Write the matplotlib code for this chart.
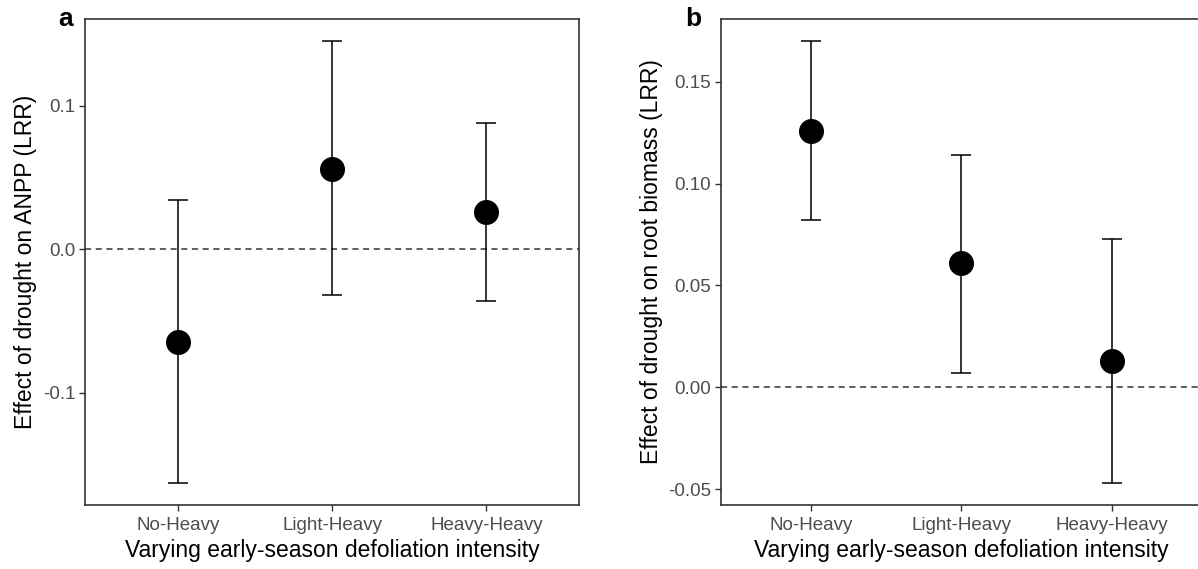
import matplotlib.pyplot as plt

plt.rcParams["font.family"] = ["Liberation Sans", "DejaVu Sans"]

CATEGORIES = ["No-Heavy", "Light-Heavy", "Heavy-Heavy"]

# panel a: ANPP
anpp_mean = [-0.065, 0.056, 0.026]
anpp_low = [-0.163, -0.032, -0.036]
anpp_high = [0.034, 0.145, 0.088]
anpp_ticks = [-0.1, 0.0, 0.1]
anpp_ticklabels = ["-0.1", "0.0", "0.1"]

# panel b: root biomass
root_mean = [0.126, 0.061, 0.013]
root_low = [0.082, 0.007, -0.047]
root_high = [0.170, 0.114, 0.073]
root_ticks = [-0.05, 0.0, 0.05, 0.10, 0.15]
root_ticklabels = ["-0.05", "0.00", "0.05", "0.10", "0.15"]

XLABEL = "Varying early-season defoliation intensity"

fig = plt.figure(figsize=(11.98, 5.69), dpi=100)
ax_a = fig.add_axes([0.071, 0.1125, 0.4124, 0.8541])
ax_b = fig.add_axes([0.6018, 0.1125, 0.4015, 0.8541])


def draw_panel(ax, mean, low, high, ticks, ticklabels, ylabel, letter, letter_x):
    x = list(range(1, len(CATEGORIES) + 1))
    yerr = [[m - l for m, l in zip(mean, low)], [h - m for m, h in zip(mean, high)]]
    ax.axhline(0, color="#333333", linestyle=(0, (4, 3)), linewidth=1.1, zorder=1)
    ax.errorbar(x, mean, yerr=yerr, fmt="o", color="black", markersize=17,
                ecolor="black", elinewidth=1.1, capsize=7, capthick=1.1, zorder=3)
    span = max(high) - min(low)
    ax.set_ylim(min(low) - 0.05 * span, max(high) + 0.05 * span)
    ax.set_xlim(0.4, len(CATEGORIES) + 0.6)
    ax.set_xticks(x)
    ax.set_xticklabels(CATEGORIES)
    ax.set_yticks(ticks)
    ax.set_yticklabels(ticklabels)
    ax.tick_params(axis="both", colors="#333333", labelcolor="#4D4D4D",
                   labelsize=13.5, length=4, width=1.0, pad=3)
    ax.tick_params(axis="x", pad=5)
    for spine in ax.spines.values():
        spine.set_edgecolor("#333333")
        spine.set_linewidth(1.2)
    ax.set_xlabel(XLABEL, fontsize=16.5, color="black", labelpad=3)
    ax.set_ylabel(ylabel, fontsize=16.5, color="black", labelpad=4)
    fig.text(letter_x, 0.988, letter, fontsize=19, fontweight="bold",
             ha="left", va="top")


draw_panel(ax_a, anpp_mean, anpp_low, anpp_high, anpp_ticks, anpp_ticklabels,
           "Effect of drought on ANPP (LRR)", "a", 0.049)
draw_panel(ax_b, root_mean, root_low, root_high, root_ticks, root_ticklabels,
           "Effect of drought on root biomass (LRR)", "b", 0.572)

plt.savefig("out.png", dpi=100)
